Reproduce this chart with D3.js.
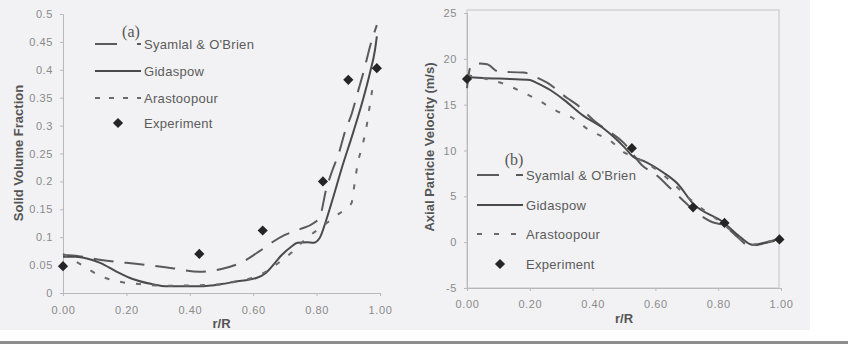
<!DOCTYPE html>
<html>
<head>
<meta charset="utf-8">
<script src="https://cdn.jsdelivr.net/npm/d3@7"></script>
<style>
body { margin: 0; background: #ffffff; }
</style>
</head>
<body>
<div id="canvas"></div>
<script>
"use strict"

/* Two panels: (a) solid volume fraction, (b) axial particle velocity, both vs r/R */

/* ---- data ---- */
let rTicks = [0, 0.2, 0.4, 0.6, 0.8, 1.0];
let rTickLabels = ["0.00", "0.20", "0.40", "0.60", "0.80", "1.00"];
let aTicks = [0, 0.05, 0.1, 0.15, 0.2, 0.25, 0.3, 0.35, 0.4, 0.45, 0.5];
let aTickLabels = ["0", "0.05", "0.1", "0.15", "0.2", "0.25", "0.3", "0.35", "0.4", "0.45", "0.5"];
let bTicks = [-5, 0, 5, 10, 15, 20, 25];
let bTickLabels = ["-5", "0", "5", "10", "15", "20", "25"];

let seriesNames = ["Syamlal & O'Brien", "Gidaspow", "Arastoopour", "Experiment"];

// panel (a): [r/R, solid volume fraction]
let aSyamlal = [[0, 0.068], [0.05, 0.066], [0.12, 0.059], [0.2, 0.054], [0.27, 0.05], [0.35, 0.044],
    [0.43, 0.038], [0.5, 0.043], [0.56, 0.054], [0.62, 0.075], [0.66, 0.091], [0.7, 0.104],
    [0.75, 0.115], [0.79, 0.125], [0.81, 0.136], [0.83, 0.185], [0.85, 0.22], [0.87, 0.25],
    [0.89, 0.29], [0.91, 0.32], [0.93, 0.36], [0.95, 0.4], [0.97, 0.445], [0.99, 0.48]];
let aGidaspow = [[0, 0.065], [0.04, 0.065], [0.075, 0.062], [0.117, 0.054], [0.17, 0.038], [0.22, 0.025],
    [0.28, 0.016], [0.33, 0.012], [0.43, 0.012], [0.5, 0.016], [0.54, 0.02], [0.61, 0.027],
    [0.64, 0.036], [0.67, 0.055], [0.69, 0.068], [0.72, 0.083], [0.74, 0.09], [0.77, 0.091],
    [0.79, 0.09], [0.81, 0.099], [0.83, 0.13], [0.85, 0.167], [0.88, 0.225], [0.915, 0.287],
    [0.946, 0.346], [0.968, 0.394], [0.984, 0.435], [0.99, 0.46]];
let aArastoopour = [[0, 0.07], [0.06, 0.05], [0.12, 0.03], [0.18, 0.02], [0.24, 0.016], [0.33, 0.013],
    [0.43, 0.014], [0.5, 0.016], [0.56, 0.022], [0.62, 0.032], [0.67, 0.05], [0.72, 0.072],
    [0.77, 0.099], [0.82, 0.12], [0.865, 0.14], [0.89, 0.15], [0.91, 0.161], [0.92, 0.197],
    [0.93, 0.233], [0.945, 0.265], [0.958, 0.3], [0.968, 0.337], [0.978, 0.373]];
let aExperiment = [[0, 0.048], [0.43, 0.07], [0.63, 0.112], [0.82, 0.2], [0.9, 0.382], [0.99, 0.403]];

// panel (b): [r/R, axial particle velocity m/s]
let bSyamlal = [[0, 16.8], [0.01, 19.0], [0.03, 19.5], [0.064, 19.4], [0.1, 18.6], [0.18, 18.5],
    [0.22, 18.0], [0.255, 17.4], [0.32, 15.7], [0.35, 15.0], [0.41, 13.1], [0.43, 12.6],
    [0.5, 10.8], [0.56, 8.3], [0.6, 7.4], [0.65, 5.8], [0.69, 4.5], [0.74, 3.0], [0.78, 2.2],
    [0.82, 1.8], [0.86, 0.6], [0.9, -0.4], [0.95, -0.1], [0.997, 0.3]];
let bGidaspow = [[0, 18.0], [0.05, 17.9], [0.137, 17.8], [0.2, 17.7], [0.22, 17.4], [0.265, 16.6],
    [0.31, 15.5], [0.37, 13.8], [0.435, 12.4], [0.5, 10.4], [0.53, 9.3], [0.56, 8.9], [0.625, 7.6],
    [0.67, 6.4], [0.72, 4.2], [0.815, 2.2], [0.87, 0.55], [0.91, -0.3], [0.955, 0.0], [0.997, 0.4]];
let bArastoopour = [[0, 18.2], [0.05, 17.9], [0.115, 17.3], [0.175, 16.4], [0.226, 15.5], [0.286, 14.3],
    [0.334, 13.6], [0.39, 12.2], [0.455, 11.1], [0.5, 9.8], [0.55, 9.0], [0.6, 8.0], [0.65, 6.6],
    [0.7, 5.0], [0.75, 3.6], [0.8, 2.4], [0.85, 1.0], [0.9, -0.3], [0.95, 0.0], [0.997, 0.3]];
let bExperiment = [[0, 17.8], [0.525, 10.25], [0.72, 3.8], [0.82, 2.1], [0.995, 0.3]];

/* ---- drawing configuration ---- */
let svgWidth = 848;
let svgHeight = 344;

let panelA = { left: 63, right: 380, top: 14, bottom: 293 };
let panelB = { left: 467, right: 781, top: 13, bottom: 288 };

let curveStyles = [
    { color: "#5a5a5a", width: 2, dash: "20,11" },   // Syamlal & O'Brien
    { color: "#4a4a4a", width: 2, dash: null },      // Gidaspow
    { color: "#6a6a6a", width: 2, dash: "5,11" }     // Arastoopour
];

let svg = d3.select("#canvas")
    .append("svg")
    .attr("width", svgWidth)
    .attr("height", svgHeight);

// scanned page background
svg.append("rect")
    .attr("width", svgWidth)
    .attr("height", svgHeight)
    .attr("fill", "#ffffff");
svg.append("rect")
    .attr("width", 810)
    .attr("height", 330)
    .attr("fill", "#f2f2f4");
svg.append("rect")
    .attr("y", 341)
    .attr("width", svgWidth)
    .attr("height", 3)
    .attr("fill", "#8e8e8e");

/* ---- scales ---- */
let xA = d3.scaleLinear().domain([0, 1]).range([panelA.left, panelA.right]);
let yA = d3.scaleLinear().domain([0, 0.5]).range([panelA.bottom, panelA.top]);
let xB = d3.scaleLinear().domain([0, 1]).range([panelB.left, panelB.right]);
let yB = d3.scaleLinear().domain([-5, 25]).range([panelB.bottom, panelB.top]);

/* ---- helpers ---- */
function styleAxis(g) {
    g.selectAll(".domain").attr("stroke", "#b9b9bb");
    g.selectAll(".tick line").attr("stroke", "#b9b9bb");
    g.selectAll(".tick text")
        .attr("fill", "#8a8a8a")
        .style("font-family", "Liberation Sans, Arial, sans-serif")
        .style("font-size", "11px")
        .style("letter-spacing", "0.6px");
}

function drawAxes(xScale, yScale, yTicks, yLabels, box, xPad) {
    let xAxis = d3.axisBottom(xScale)
        .tickValues(rTicks)
        .tickFormat(function(d, i) { return rTickLabels[i]; })
        .tickSize(3)
        .tickPadding(xPad);
    let yAxis = d3.axisLeft(yScale)
        .tickValues(yTicks)
        .tickFormat(function(d, i) { return yLabels[i]; })
        .tickSize(3)
        .tickPadding(7);

    svg.append("g")
        .attr("transform", "translate(0," + box.bottom + ")")
        .call(xAxis)
        .call(styleAxis);
    svg.append("g")
        .attr("transform", "translate(" + box.left + ",0)")
        .call(yAxis)
        .call(styleAxis);
}

function drawCurve(data, xScale, yScale, style) {
    let line = d3.line()
        .x(function(d) { return xScale(d[0]); })
        .y(function(d) { return yScale(d[1]); })
        .curve(d3.curveMonotoneX);
    svg.append("path")
        .datum(data)
        .attr("d", line)
        .attr("fill", "none")
        .attr("stroke", style.color)
        .attr("stroke-width", style.width)
        .attr("stroke-dasharray", style.dash)
        .attr("stroke-linecap", "butt");
}

let diamond = d3.symbol().type(d3.symbolSquare).size(52);

function drawPoints(data, xScale, yScale) {
    svg.append("g")
        .selectAll("path")
        .data(data)
        .join("path")
        .attr("d", diamond)
        .attr("transform", function(d) {
            return "translate(" + xScale(d[0]) + "," + yScale(d[1]) + ") rotate(45)";
        })
        .attr("fill", "#252525");
}

function drawLegend(x, rows, tag, tagPos, legendDashes) {
    let font = "Liberation Sans, Arial, sans-serif";
    for (let i = 0; i < seriesNames.length; i++) {
        let y = rows[i];
        if (i < 3) {
            svg.append("line")
                .attr("x1", x)
                .attr("x2", x + 46)
                .attr("y1", y)
                .attr("y2", y)
                .attr("stroke", curveStyles[i].color)
                .attr("stroke-width", 2)
                .attr("stroke-dasharray", legendDashes[i]);
        } else {
            svg.append("path")
                .attr("d", diamond)
                .attr("transform", "translate(" + (x + 23) + "," + y + ") rotate(45)")
                .attr("fill", "#252525");
        }
        svg.append("text")
            .attr("x", x + 49)
            .attr("y", y)
            .attr("dy", "0.35em")
            .attr("fill", "#5b5b5b")
            .style("font-family", font)
            .style("font-size", "13px")
            .style("letter-spacing", "0.3px")
            .text(seriesNames[i]);
    }
    svg.append("text")
        .attr("x", tagPos[0])
        .attr("y", tagPos[1])
        .attr("text-anchor", "middle")
        .attr("fill", "#555555")
        .style("font-family", "Liberation Serif, serif")
        .style("font-size", "16px")
        .text(tag);
}

function axisTitle(text, x, y, rotate) {
    let t = svg.append("text")
        .attr("x", x)
        .attr("y", y)
        .attr("text-anchor", "middle")
        .attr("dy", "0.35em")
        .attr("fill", "#555555")
        .style("font-family", "Liberation Sans, Arial, sans-serif")
        .style("font-size", "13px")
        .style("font-weight", "bold")
        .text(text);
    if (rotate) {
        t.attr("transform", "rotate(-90," + x + "," + y + ")");
    }
}

/* ---- panel (a) ---- */
drawAxes(xA, yA, aTicks, aTickLabels, panelA, 10);
drawCurve(aSyamlal, xA, yA, curveStyles[0]);
drawCurve(aGidaspow, xA, yA, curveStyles[1]);
drawCurve(aArastoopour, xA, yA, curveStyles[2]);
drawPoints(aExperiment, xA, yA);
drawLegend(95, [44, 71, 98, 123], "(a)", [131, 37], ["22,20", null, "5,9"]);
axisTitle("Solid Volume Fraction", 18, 153, true);
axisTitle("r/R", (panelA.left + panelA.right) / 2, 323, false);

/* ---- panel (b) ---- */
// plot area frame (top and right edges)
svg.append("rect")
    .attr("x", panelB.left)
    .attr("y", panelB.top - 3)
    .attr("width", panelB.right - panelB.left - 2)
    .attr("height", panelB.bottom - panelB.top + 3)
    .attr("fill", "none")
    .attr("stroke", "#c4c4c6")
    .attr("stroke-width", 1);
drawAxes(xB, yB, bTicks, bTickLabels, panelB, 9);
drawCurve(bSyamlal, xB, yB, curveStyles[0]);
drawCurve(bGidaspow, xB, yB, curveStyles[1]);
drawCurve(bArastoopour, xB, yB, curveStyles[2]);
drawPoints(bExperiment, xB, yB);
drawLegend(477, [175, 205, 234, 264], "(b)", [514, 165], ["22,17", null, "5,12"]);
axisTitle("Axial Particle Velocity (m/s)", 429, 147, true);
axisTitle("r/R", (panelB.left + panelB.right) / 2, 318, false);
</script>
</body>
</html>
